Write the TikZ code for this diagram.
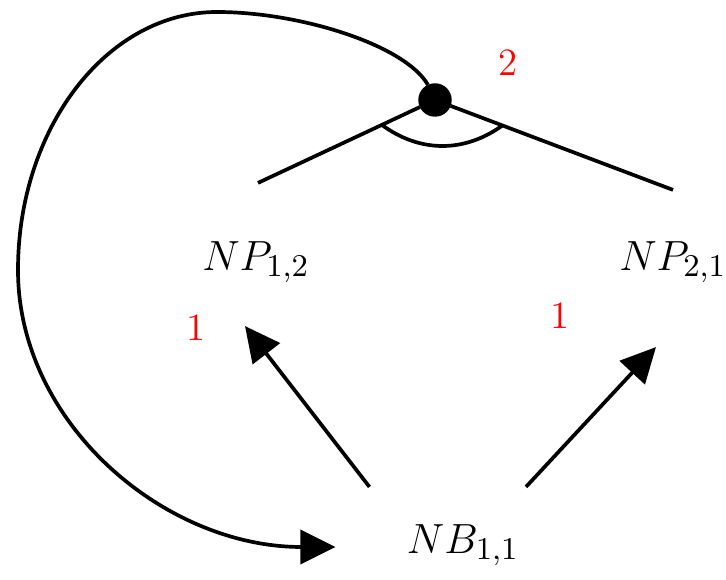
\documentclass[tikz,border=0pt]{standalone}
\usepackage{amssymb,amsmath}
\usetikzlibrary{arrows.meta}
\begin{document}
\begin{tikzpicture}[x=0.01cm,y=-0.01cm,
        vertex/.style={circle,draw,fill=black,minimum size=0.32cm,inner sep=0pt},
        term/.style={font=\fontsize{13}{15}\selectfont},
        cost/.style={text=red,font=\fontsize{11}{13}\selectfont},
        edge/.style={line width=1.05pt},
        arr/.style={line width=1.05pt,-{Triangle[length=0.35cm,width=0.34cm]}}]

    \useasboundingbox (0,0) rectangle (726,580);

    \node[vertex] (hub) at (435,100) {};
    \node[term] (np12) at (256,262) {$NP_{1,2}$};
    \node[term] (np21) at (673,262) {$NP_{2,1}$};
    \node[term] (nb11) at (463,545) {$NB_{1,1}$};

    \node[cost] (c2) at (508,63) {2};
    \node[cost] (c1a) at (196,328) {1};
    \node[cost] (c1b) at (560,316) {1};

    \draw[edge] (hub) -- ([shift={(2,-46)}]np12.north) coordinate[pos=0.235] (al);
    \draw[edge] (hub) -- ([shift={(0,-39)}]np21.north) coordinate[pos=0.233] (ar);
    \draw[edge] (al) to[bend right=36] (ar);

    \draw[arr] ([shift={(-25,-25)}]nb11.north west) -- ([shift={(-11,31)}]np12.south);
    \draw[arr] ([shift={(63,-25)}]nb11.north) -- ([shift={(-17,52)}]np21.south);
    \draw[arr] (hub.115) .. controls (405,45) and (300,12) .. (217,12)
        .. controls (107,12) and (18,128) .. (18,270)
        .. controls (18,423) and (164,547) .. ([shift={(-59,2)}]nb11.west);
    \end{tikzpicture}
\end{document}
